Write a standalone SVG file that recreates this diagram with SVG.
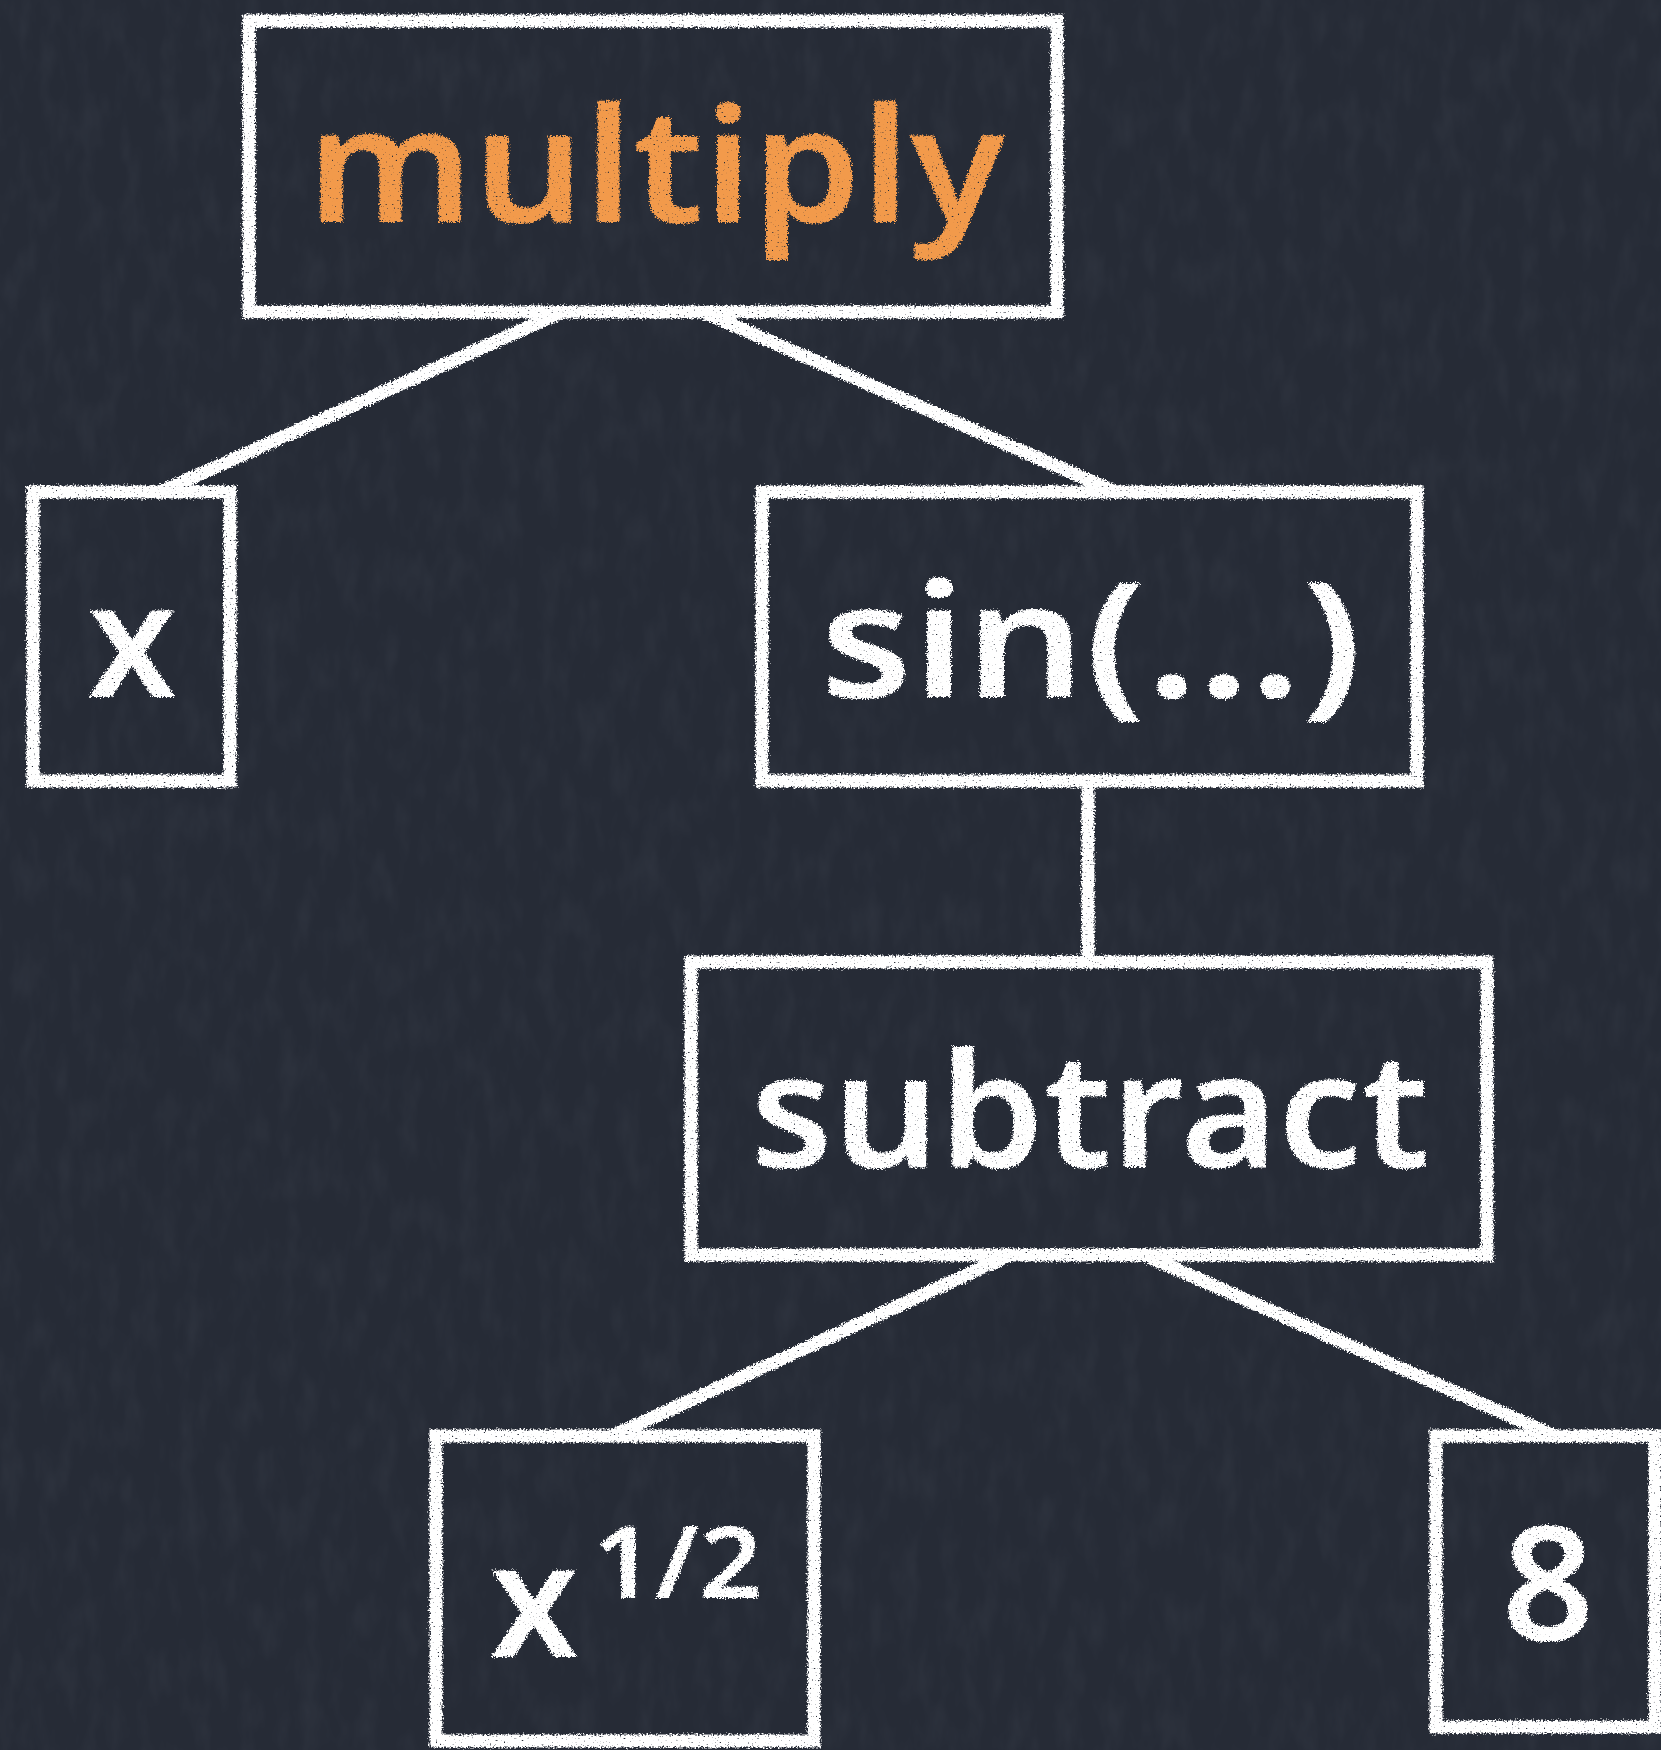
<svg xmlns="http://www.w3.org/2000/svg" width="1661" height="1750" viewBox="0 0 1661 1750">
  <defs>
    <!-- rough, grainy chalk edges -->
    <filter id="chalk" filterUnits="userSpaceOnUse" x="0" y="0" width="1661" height="1750">
      <feTurbulence type="fractalNoise" baseFrequency="0.6" numOctaves="2" seed="4" result="warp"/>
      <feDisplacementMap in="SourceGraphic" in2="warp" scale="7" xChannelSelector="R" yChannelSelector="G" result="rough"/>
      <feTurbulence type="fractalNoise" baseFrequency="0.5" numOctaves="2" seed="11" result="grain"/>
      <feColorMatrix in="grain" type="matrix" values="0 0 0 0 0  0 0 0 0 0  0 0 0 0 0  -9 0 0 0 7.2" result="holes"/>
      <feComposite in="rough" in2="holes" operator="in"/>
    </filter>
    <!-- faint board texture -->
    <filter id="board" filterUnits="userSpaceOnUse" x="0" y="0" width="1661" height="1750">
      <feTurbulence type="fractalNoise" baseFrequency="0.05 0.02" numOctaves="3" seed="2" result="t"/>
      <feColorMatrix in="t" type="matrix" values="0 0 0 0 0.55  0 0 0 0 0.6  0 0 0 0 0.7  0 0 0 0.6 -0.25"/>
    </filter>
  </defs>
  <style>
    .box { fill: none; stroke: #ffffff; stroke-width: 13; stroke-linejoin: miter; }
    .edge { fill: none; stroke: #ffffff; stroke-width: 13; stroke-linecap: round; }
    .label { font-family: "Noto Sans", "DejaVu Sans", sans-serif; font-weight: 600; font-size: 160px; fill: #ffffff; text-anchor: middle; }
    .hot { fill: #f29a4c; }
  </style>

  <rect width="1661" height="1750" fill="#262b36"/>
  <rect width="1661" height="1750" filter="url(#board)" opacity="0.15"/>

  <g filter="url(#chalk)">
    <g id="connectors">
      <line class="edge" x1="562" y1="312" x2="160" y2="492"/>
      <line class="edge" x1="703" y1="312" x2="1116" y2="492"/>
      <line class="edge" x1="1088" y1="781" x2="1088" y2="962"/>
      <line class="edge" x1="1010" y1="1255" x2="612" y2="1436"/>
      <line class="edge" x1="1144" y1="1255" x2="1555" y2="1436"/>
    </g>

    <g id="node-multiply">
      <rect class="box" x="249" y="21" width="808" height="291"/>
      <text class="label hot" x="656" y="222" textLength="698" lengthAdjust="spacingAndGlyphs">multiply</text>
    </g>

    <g id="node-x">
      <rect class="box" x="33" y="492" width="197" height="289"/>
      <text class="label" x="132" y="697">x</text>
    </g>

    <g id="node-sin">
      <rect class="box" x="762" y="492" width="655" height="289"/>
      <text class="label" x="1091" y="697" textLength="542" lengthAdjust="spacingAndGlyphs">sin(...)</text>
    </g>

    <g id="node-subtract">
      <rect class="box" x="691" y="962" width="796" height="293"/>
      <text class="label" x="1090" y="1167" textLength="679" lengthAdjust="spacingAndGlyphs">subtract</text>
    </g>

    <g id="node-sqrt">
      <rect class="box" x="436" y="1436" width="378" height="305"/>
      <text class="label" x="534" y="1657">x</text>
      <text class="label" x="677" y="1598" style="font-size:100px" textLength="170" lengthAdjust="spacingAndGlyphs">1/2</text>
    </g>

    <g id="node-eight">
      <rect class="box" x="1436" y="1436" width="219" height="291"/>
      <text class="label" x="1548" y="1640">8</text>
    </g>
  </g>
</svg>
